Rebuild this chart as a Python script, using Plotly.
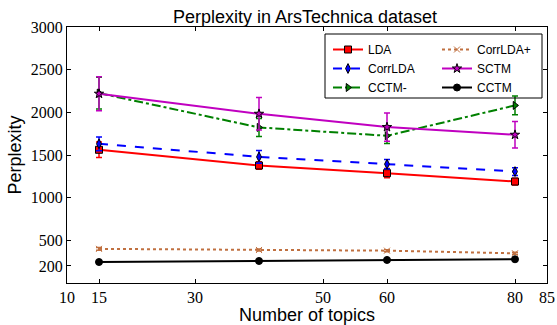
import plotly.graph_objects as go

topics = [15, 40, 60, 80]
names = ["LDA", "CorrLDA", "CCTM-", "CorrLDA+", "SCTM", "CCTM"]
lda = [1561, 1377, 1287, 1189]
lda_err = [90, 45, 55, 40]
corrlda = [1631, 1478, 1393, 1306]
corrlda_err = [80, 75, 55, 45]
cctm_minus = [2225, 1823, 1725, 2081]
cctm_minus_err = [185, 105, 90, 110]
corrlda_plus = [400, 387, 379, 348]
corrlda_plus_err = [15, 12, 12, 12]
sctm = [2218, 1983, 1827, 1737]
sctm_err = [200, 190, 165, 156]
cctm = [246, 258, 270, 278]
cctm_err = [8, 8, 8, 8]

x_ticks = [10, 15, 30, 50, 60, 80, 85]
y_ticks = [200, 500, 1000, 1500, 2000, 2500, 3000]

styles = {
    "LDA": dict(color="#ff0000", dash="solid", symbol="square", size=7),
    "CorrLDA": dict(color="#0000ff", dash="dash", symbol="diamond-tall", size=7),
    "CCTM-": dict(color="#008000", dash="dashdot", symbol="triangle-right", size=7),
    "CorrLDA+": dict(color="#c07040", dash="dot", symbol="x-thin", size=6),
    "SCTM": dict(color="#c000c0", dash="solid", symbol="star", size=7),
    "CCTM": dict(color="#000000", dash="solid", symbol="circle", size=7),
}
series = {
    "LDA": (lda, lda_err, "legend"),
    "CorrLDA": (corrlda, corrlda_err, "legend"),
    "CCTM-": (cctm_minus, cctm_minus_err, "legend"),
    "CorrLDA+": (corrlda_plus, corrlda_plus_err, "legend2"),
    "SCTM": (sctm, sctm_err, "legend2"),
    "CCTM": (cctm, cctm_err, "legend2"),
}

fig = go.Figure()
for name in ["CorrLDA+", "CCTM", "LDA", "CorrLDA", "CCTM-", "SCTM"]:
    vals, errs, lg = series[name]
    st = styles[name]
    marker = dict(symbol=st["symbol"], size=st["size"], color=st["color"],
                  line=dict(color="black" if name != "CorrLDA+" else st["color"], width=1))
    fig.add_trace(go.Scatter(
        x=topics, y=vals, name=name, mode="lines+markers",
        line=dict(color=st["color"], width=2, dash=st["dash"]),
        marker=marker,
        error_y=dict(type="data", array=errs, visible=True, color=st["color"], thickness=1.5, width=3),
        legend=lg, legendrank=names.index(name),
    ))

fig.add_shape(type="rect", xref="paper", yref="paper",
              x0=(325 - 67) / 480, x1=(542 - 67) / 480,
              y0=(283 - 98) / 256, y1=(283 - 34) / 256,
              line=dict(color="black", width=1), fillcolor="rgba(0,0,0,0)")

tickfont = dict(family="Liberation Serif", size=16, color="black")
fig.update_layout(
    width=557, height=325,
    margin=dict(l=67, r=10, t=27, b=42),
    paper_bgcolor="white", plot_bgcolor="white",
    title=dict(text="Perplexity in ArsTechnica dataset", x=(63 + 547) / 2 / 557, xanchor="center",
               y=1 - 17 / 325, yanchor="middle",
               font=dict(family="Liberation Sans", size=18, color="black")),
    xaxis=dict(range=[10, 85], tickvals=x_ticks, ticktext=[str(v) for v in x_ticks],
               showgrid=False, zeroline=False, showline=True, linecolor="black", linewidth=1,
               mirror="ticks", ticks="inside", ticklen=4, tickcolor="black", tickfont=tickfont,
               automargin=False,
               title=dict(text="Number of topics", standoff=4,
                          font=dict(family="Liberation Sans", size=18, color="black"))),
    yaxis=dict(range=[0, 3000], tickvals=y_ticks, ticktext=[str(v) for v in y_ticks],
               showgrid=False, zeroline=False, showline=True, linecolor="black", linewidth=1,
               mirror="ticks", ticks="inside", ticklen=4, tickcolor="black", tickfont=tickfont,
               automargin=False,
               title=dict(text="Perplexity", standoff=4,
                          font=dict(family="Liberation Sans", size=18, color="black"))),
    legend=dict(x=(328 - 67) / 480, y=(283 - 35) / 256, xanchor="left", yanchor="top",
                bgcolor="rgba(0,0,0,0)", borderwidth=0, tracegroupgap=0,
                font=dict(family="Liberation Sans", size=12, color="black")),
    legend2=dict(x=(437 - 67) / 480, y=(283 - 35) / 256, xanchor="left", yanchor="top",
                 bgcolor="rgba(0,0,0,0)", borderwidth=0, tracegroupgap=0,
                 font=dict(family="Liberation Sans", size=12, color="black")),
)
fig.write_html("out.html")
